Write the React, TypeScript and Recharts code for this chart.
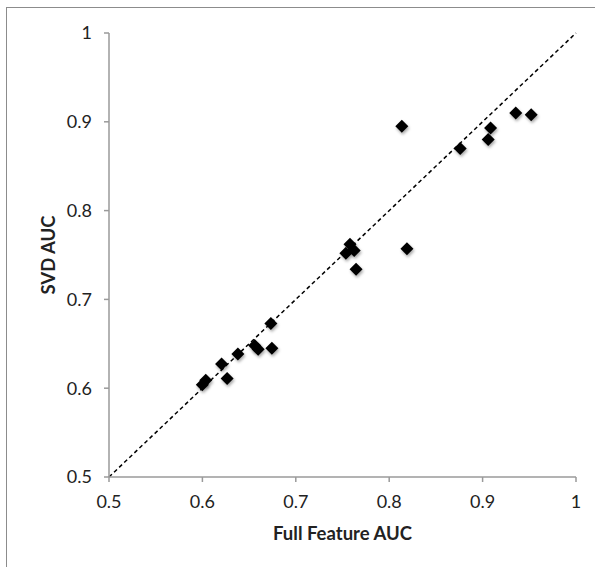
// App.tsx – SVD vs full feature AUC scatter
import React from 'react';
import {
  ScatterChart,
  Scatter,
  XAxis,
  YAxis,
  ReferenceLine,
  Label,
} from 'recharts';

// Full feature AUC (x) and SVD AUC (y)
const fullFeatureAuc = [
  0.5999, 0.6036, 0.6205, 0.6265, 0.638, 0.656, 0.6597, 0.6733, 0.6744,
  0.7536, 0.758, 0.7625, 0.7645, 0.8135, 0.819, 0.876, 0.906, 0.9085, 0.9355, 0.952,
];
const svdAuc = [
  0.604, 0.609, 0.6272, 0.611, 0.6384, 0.648, 0.644, 0.673, 0.645,
  0.752, 0.762, 0.755, 0.734, 0.895, 0.757, 0.87, 0.88, 0.893, 0.91, 0.908,
];
const axisTicks = [0.5, 0.6, 0.7, 0.8, 0.9, 1];
const diagonal = [0.5, 1];

const points = fullFeatureAuc.map((x, i) => ({ x, y: svdAuc[i] }));

const FONT = 'Lato, "Open Sans", sans-serif';
const AXIS_GREY = '#9a9a9a';

// black diamond marker with a soft shadow
const Diamond = (props: any) => {
  const { cx, cy } = props;
  const r = 6.5;
  return (
    <polygon
      points={`${cx},${cy - r} ${cx + r},${cy} ${cx},${cy + r} ${cx - r},${cy}`}
      fill="#000"
      filter="url(#markerShadow)"
    />
  );
};

export default function App() {
  return (
    <div style={{ position: 'absolute', left: 0, top: 0, width: 595, height: 567, background: '#fff' }}>
      <div
        style={{
          position: 'absolute',
          left: 6,
          top: 7,
          width: 589,
          height: 560,
          borderLeft: '1px solid #8c8c8c',
          borderTop: '1px solid #8c8c8c',
        }}
      />
      <div style={{ position: 'absolute', left: 0, top: 0 }}>
        <ScatterChart width={595} height={567} margin={{ top: 33, right: 19, left: 0, bottom: 20 }}>
          <defs>
            <filter id="markerShadow" x="-50%" y="-50%" width="200%" height="200%">
              <feDropShadow dx="1" dy="2" stdDeviation="1.5" floodColor="#000" floodOpacity="0.35" />
            </filter>
          </defs>
          <XAxis
            type="number"
            dataKey="x"
            domain={[0.5, 1]}
            ticks={axisTicks}
            tickFormatter={(v: number) => String(v)}
            height={70}
            stroke={AXIS_GREY}
            strokeWidth={1.5}
            tickSize={5}
            tickMargin={13}
            tick={{ fill: '#222', fontSize: 18, fontFamily: FONT }}
          >
            <Label
              value="Full Feature AUC"
              position="insideBottom"
              offset={7}
              style={{ fill: '#222', fontSize: 18.5, fontWeight: 700, fontFamily: FONT }}
            />
          </XAxis>
          <YAxis
            type="number"
            dataKey="y"
            domain={[0.5, 1]}
            ticks={axisTicks}
            tickFormatter={(v: number) => String(v)}
            width={109}
            stroke={AXIS_GREY}
            strokeWidth={1.5}
            tickSize={5}
            tickMargin={12}
            tick={{ fill: '#222', fontSize: 18, fontFamily: FONT }}
          >
            <Label
              value="SVD AUC"
              position="center"
              angle={-90}
              dx={-6}
              style={{ fill: '#222', fontSize: 18.5, fontWeight: 700, fontFamily: FONT, textAnchor: 'middle' }}
            />
          </YAxis>
          <ReferenceLine
            segment={[
              { x: diagonal[0], y: diagonal[0] },
              { x: diagonal[1], y: diagonal[1] },
            ]}
            stroke="#000"
            strokeWidth={1.5}
            strokeDasharray="4 3"
          />
          <Scatter data={points} shape={Diamond} isAnimationActive={false} />
        </ScatterChart>
      </div>
    </div>
  );
}
